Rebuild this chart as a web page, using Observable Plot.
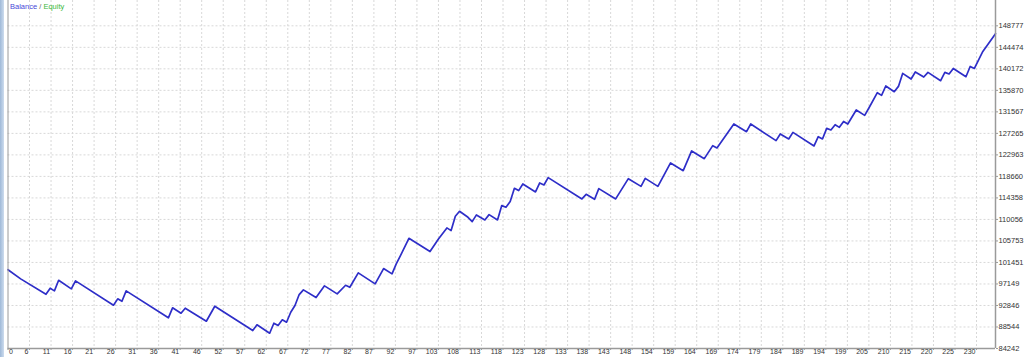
<!DOCTYPE html>
<html><head><meta charset="utf-8">
<script src="https://cdn.jsdelivr.net/npm/d3@7"></script>
<script src="https://cdn.jsdelivr.net/npm/@observablehq/plot@0.6"></script>
<style>
html,body{margin:0;padding:0;background:#fff;}
#wrap{position:relative;width:1024px;height:357px;overflow:hidden;}
#strip{position:absolute;left:0;top:0;width:4px;height:357px;background:linear-gradient(to right,#9fb9d8,#cddcee);}
#legend{position:absolute;left:10px;top:2px;font:7.5px "Liberation Sans",sans-serif;white-space:nowrap;}
#chart svg{display:block;}
</style></head><body>
<div id="wrap"><div id="chart"></div><div id="strip"></div><div id="legend"><span style="color:#4848d8">Balance</span><span style="color:#666"> / </span><span style="color:#3cb83c">Equity</span></div></div>
<script>
const trades = [0,3,9,10,11,12,15,16,25,26,27,28,38,39,41,42,47,49,58,59,62,63,64,65,66,67,68,69,70,73,75,78,80,81,83,87,89,91,92,93,95,100,102,104,105,106,107,109,110,111,113,114,116,117,118,119,120,121,122,125,126,127,128,136,137,139,140,144,147,150,151,154,157,160,162,165,167,168,172,175,176,182,183,185,186,191,192,193,194,195,196,197,198,199,201,203,204,206,207,208,210,211,212,214,215,217,218,221,222,223,224,227,228,229,231,234];
const balance = [100000,98170,95090,96290,95770,97890,96170,97770,92900,94170,93690,95770,90380,92380,91300,92300,89700,92700,87840,88980,87300,89300,88840,89980,89500,91500,92840,95030,95970,94430,96770,95170,96890,96490,99370,97170,100230,99170,101170,102830,106280,103630,106160,108360,107820,110680,111680,110480,109620,110960,109960,111020,109960,112820,112480,113620,116280,115820,117150,115560,117350,116950,118410,114160,115080,114080,116220,114160,118210,116670,118270,116670,121350,119810,123750,122210,124810,124350,129140,127610,129140,125810,127150,126150,127470,124750,126610,126150,128270,127950,129000,128470,129660,129140,131940,130860,132340,135400,134860,136740,135600,136660,139260,138140,139540,138540,139460,137800,139460,139140,140250,138600,140650,140250,143650,147200];
const xTickLabels = [0,6,11,16,21,26,31,36,41,46,52,57,62,67,72,77,82,87,92,97,103,108,113,118,123,128,133,138,143,148,154,159,164,169,174,179,184,189,194,199,205,210,215,220,225,230];
const yTickLabels = [84242,88544,92846,97149,101451,105753,110056,114358,118660,122963,127265,131567,135870,140172,144474,148777];

const xMax = trades[trades.length - 1];
const tickStep = 5.1;
const data = trades.map((t, i) => ({t, b: balance[i]}));
const xTicks = xTickLabels.map((lab, k) => ({pos: k * tickStep, lab: String(lab)}));
const xPos = xTicks.map(d => d.pos);
const grid = {stroke: "#d8d8d8", strokeOpacity: 1, strokeDasharray: "2,2"};
const axisColor = "#9a9a9a";

const chart = Plot.plot({
  width: 1024, height: 357,
  marginLeft: 7.5, marginRight: 29, marginTop: 0, marginBottom: 9,
  style: {fontFamily: '"Liberation Sans", sans-serif', fontSize: "7px", color: "#333", background: "transparent"},
  x: {domain: [0, xMax], axis: null},
  y: {domain: [84242, 153840], axis: null},
  marks: [
    Plot.gridX(xPos.slice(1), grid),
    Plot.gridY(yTickLabels.slice(1), grid),
    Plot.line(data, {x: "t", y: "b", stroke: "#2e2ec8", strokeWidth: 1.7}),
    Plot.ruleX([0], {stroke: axisColor}),
    Plot.ruleX([xMax], {stroke: axisColor, strokeWidth: 1.5}),
    Plot.ruleY([84242], {stroke: axisColor, strokeWidth: 1.5}),
    Plot.axisX(xPos, {tickSize: 2, tickFormat: () => "", stroke: axisColor}),
    Plot.text(xTicks.slice(1), {x: "pos", text: "lab", frameAnchor: "bottom", textAnchor: "end", dx: -1, dy: 5, fontSize: 7, fill: "#333"}),
    Plot.text(xTicks.slice(0, 1), {x: "pos", text: "lab", frameAnchor: "bottom", textAnchor: "start", dx: 1, dy: 5, fontSize: 7, fill: "#333"}),
    Plot.axisY(yTickLabels, {anchor: "right", tickSize: 2, tickPadding: 1, tickFormat: d => String(d), fontSize: 7.5, label: null, stroke: axisColor, fill: "#333"})
  ]
});
document.getElementById("chart").appendChild(chart);
</script>
</body></html>
